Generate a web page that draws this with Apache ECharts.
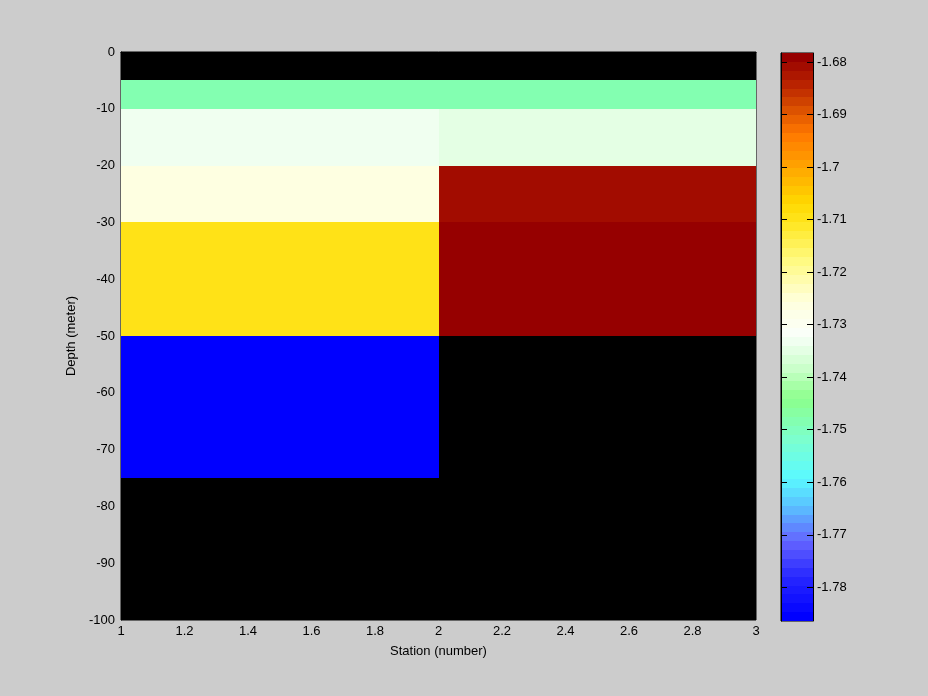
<!DOCTYPE html>
<html>
<head>
<meta charset="utf-8">
<script src="https://cdn.jsdelivr.net/npm/echarts@6/dist/echarts.min.js"></script>
<style>
html,body{margin:0;padding:0;background:#cccccc;}
#chart{width:928px;height:696px;}
</style>
</head>
<body>
<div id="chart"></div>
<script>
// ---- data ----
const stationEdges = [1, 2, 3];
const depthEdges = [0, -5, -10, -20, -30, -50, -75, -100];
// temperature per cell (rows follow depthEdges intervals), null = no data
const station1Temp = [null, -1.7485, -1.7334, -1.7269, -1.7091, -1.7864, null];
const station2Temp = [null, -1.7485, -1.7356, -1.6810, -1.6783, null, null];
const yTicks = [0, -10, -20, -30, -40, -50, -60, -70, -80, -90, -100];
const colorbarTicks = [-1.68, -1.69, -1.70, -1.71, -1.72, -1.73, -1.74, -1.75, -1.76, -1.77, -1.78];
const climMin = -1.7864;
const climMax = -1.6783;

// ---- colormap (style) ----
const cmapStops = [
  [0.000, [0, 0, 255]],
  [0.072, [40, 40, 255]],
  [0.134, [100, 100, 255]],
  [0.155, [95, 130, 255]],
  [0.195, [90, 190, 255]],
  [0.248, [90, 250, 255]],
  [0.319, [125, 255, 205]],
  [0.389, [140, 255, 140]],
  [0.442, [200, 255, 200]],
  [0.504, [250, 255, 250]],
  [0.565, [255, 255, 220]],
  [0.636, [255, 250, 130]],
  [0.706, [255, 230, 30]],
  [0.741, [255, 215, 0]],
  [0.803, [255, 165, 0]],
  [0.864, [255, 120, 0]],
  [0.917, [210, 70, 0]],
  [0.952, [185, 35, 0]],
  [1.000, [150, 0, 0]]
];
const NC = 64;
function interpColor(t) {
  for (let i = 1; i < cmapStops.length; i++) {
    if (t <= cmapStops[i][0]) {
      const a = cmapStops[i - 1], b = cmapStops[i];
      const f = (t - a[0]) / (b[0] - a[0]);
      const c = a[1].map((v, k) => Math.round(v + (b[1][k] - v) * f));
      return 'rgb(' + c.join(',') + ')';
    }
  }
  return 'rgb(' + cmapStops[cmapStops.length - 1][1].join(',') + ')';
}
const cmap = [];
for (let i = 0; i < NC; i++) cmap.push(interpColor(i / (NC - 1)));
function colorOf(v) {
  let idx = Math.floor((v - climMin) / (climMax - climMin) * NC);
  idx = Math.max(0, Math.min(NC - 1, idx));
  return cmap[idx];
}

// ---- build cells ----
const columns = [station1Temp, station2Temp];
const cells = [];
columns.forEach((col, c) => {
  col.forEach((v, r) => {
    if (v !== null) cells.push([stationEdges[c], stationEdges[c + 1], depthEdges[r], depthEdges[r + 1], v]);
  });
});
const barItems = [];
for (let i = 0; i < NC; i++) {
  barItems.push([0, 1, climMin + i * (climMax - climMin) / NC, climMin + (i + 1) * (climMax - climMin) / NC, i]);
}

const FONT = 'Liberation Sans';
const txt = { color: '#000', fontFamily: FONT, fontSize: 13 };

function rectItem(params, api, fill) {
  const p0 = api.coord([api.value(0), api.value(2)]);
  const p1 = api.coord([api.value(1), api.value(3)]);
  const x0 = Math.round(Math.min(p0[0], p1[0])), x1 = Math.round(Math.max(p0[0], p1[0]));
  const y0 = Math.round(Math.min(p0[1], p1[1])), y1 = Math.round(Math.max(p0[1], p1[1]));
  return {
    type: 'rect',
    shape: { x: x0, y: y0, width: x1 - x0, height: y1 - y0 },
    style: { fill: fill, stroke: null }
  };
}

const chart = echarts.init(document.getElementById('chart'));
chart.setOption({
  backgroundColor: '#cccccc',
  animation: false,
  grid: [
    { left: 121, top: 52, width: 635, height: 568, show: true, backgroundColor: '#000', borderColor: '#000', borderWidth: 1 },
    { left: 781, top: 53, width: 32, height: 568, show: true, borderColor: '#000', borderWidth: 1 }
  ],
  xAxis: [
    {
      gridIndex: 0, type: 'value', min: 1, max: 3, interval: 0.2,
      name: 'Station (number)', nameLocation: 'middle', nameGap: 25, nameTextStyle: txt,
      axisLine: { show: true, lineStyle: { color: '#000' } },
      axisTick: { show: false },
      splitLine: { show: false },
      axisLabel: Object.assign({ margin: 5, formatter: v => String(+v.toFixed(1)) }, txt)
    },
    {
      gridIndex: 1, type: 'value', min: 0, max: 1, show: false
    }
  ],
  yAxis: [
    {
      gridIndex: 0, type: 'value', min: -100, max: 0, interval: 10,
      name: 'Depth (meter)', nameLocation: 'middle', nameGap: 42, nameRotate: 90, nameTextStyle: txt,
      axisLine: { show: true, lineStyle: { color: '#000' } },
      axisTick: { show: false },
      splitLine: { show: false },
      axisLabel: Object.assign({ margin: 6 }, txt)
    },
    {
      gridIndex: 1, type: 'value', min: climMin, max: climMax, position: 'left', z: 10,
      axisLine: { show: true, lineStyle: { color: '#000' } },
      axisTick: { show: true, inside: true, length: 6, lineStyle: { color: '#000' }, customValues: colorbarTicks },
      axisLabel: { show: false },
      splitLine: { show: false }
    },
    {
      gridIndex: 1, type: 'value', min: climMin, max: climMax, position: 'right', z: 10,
      axisLine: { show: true, lineStyle: { color: '#000' } },
      axisTick: { show: true, inside: true, length: 6, lineStyle: { color: '#000' }, customValues: colorbarTicks },
      axisLabel: Object.assign({ margin: 4, customValues: colorbarTicks, formatter: v => String(+(+v).toFixed(2)) }, txt),
      splitLine: { show: false }
    }
  ],
  series: [
    {
      type: 'custom', xAxisIndex: 0, yAxisIndex: 0, z: 1,
      data: cells,
      encode: { x: [0, 1], y: [2, 3] },
      renderItem: (params, api) => rectItem(params, api, colorOf(api.value(4)))
    },
    {
      type: 'custom', xAxisIndex: 1, yAxisIndex: 1, z: 1,
      data: barItems,
      encode: { x: [0, 1], y: [2, 3] },
      renderItem: (params, api) => rectItem(params, api, cmap[api.value(4)])
    }
  ]
});
</script>
</body>
</html>
